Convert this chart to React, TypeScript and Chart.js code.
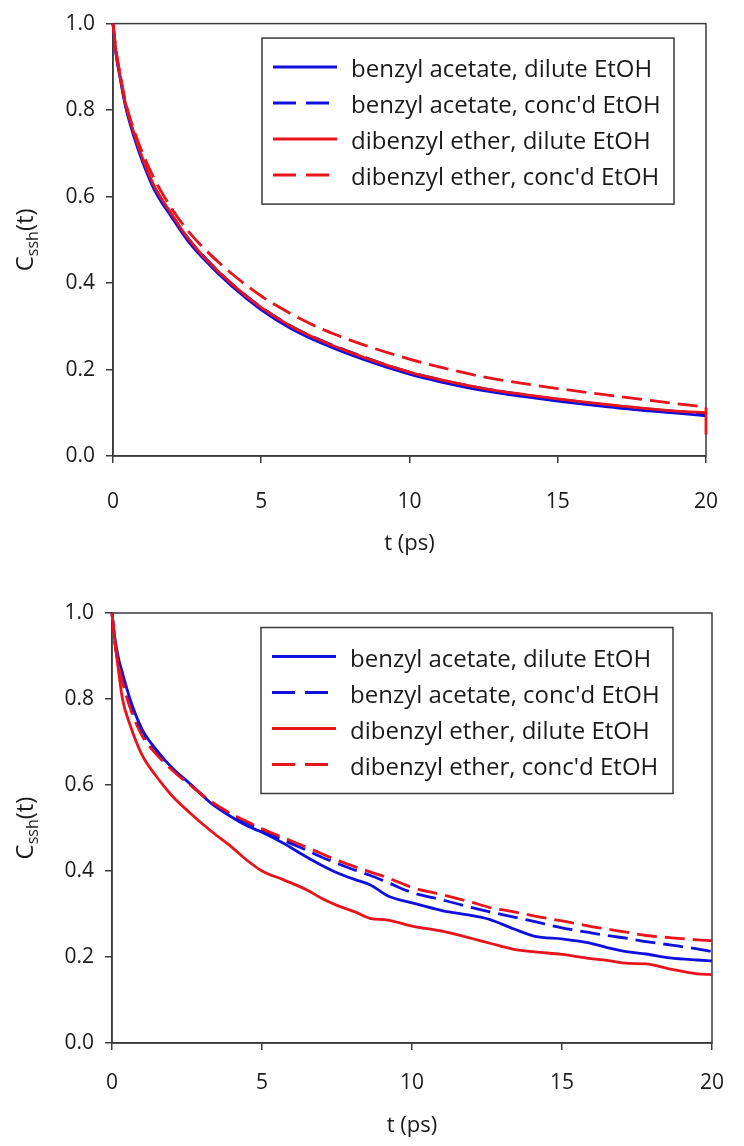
import React, { useEffect, useRef } from "react";
import { Chart, registerables } from "chart.js";

Chart.register(...registerables);

const FONT = "'Open Sans', 'DejaVu Sans', sans-serif";
const BLUE = "#1010dc";
const RED = "#e8141c";
const AXIS = "#3a3a3a";
const TEXT = "#1a1a1a";

// ---- legend / series descriptors ----
const seriesLabels = [
  "benzyl acetate, dilute EtOH",
  "benzyl acetate, conc'd EtOH",
  "dibenzyl ether, dilute EtOH",
  "dibenzyl ether, conc'd EtOH",
];
const seriesColors = [BLUE, BLUE, RED, RED];
const seriesDashed = [false, true, false, true];
const seriesOrder = [3, 2, 1, 0];

// ---- axis ticks ----
const xMin = 0;
const xMax = 20;
const xStep = 5;
const yMin = 0;
const yMax = 1;
const yStep = 0.2;

// ---- top panel data ----
const topTime = [0, 0.1, 0.25, 0.4, 0.7, 1.0, 1.4, 2.0, 2.5, 3.0, 4.0, 5.0, 6.0, 7.0, 8.5, 10, 11, 12.5, 14, 15, 16, 17.5, 19, 20];
const topBADilute = [1.0, 0.93, 0.87, 0.815, 0.74, 0.68, 0.615, 0.55, 0.5, 0.46, 0.393, 0.338, 0.295, 0.262, 0.222, 0.189, 0.172, 0.151, 0.136, 0.127, 0.119, 0.108, 0.099, 0.093];
const topBAConc = [1.0, 0.935, 0.875, 0.82, 0.746, 0.686, 0.621, 0.556, 0.506, 0.466, 0.399, 0.344, 0.301, 0.268, 0.228, 0.194, 0.177, 0.156, 0.14, 0.131, 0.123, 0.112, 0.103, 0.097];
const topDEDilute = [1.0, 0.935, 0.876, 0.822, 0.748, 0.688, 0.623, 0.557, 0.506, 0.465, 0.398, 0.343, 0.3, 0.267, 0.227, 0.194, 0.177, 0.156, 0.141, 0.132, 0.124, 0.113, 0.104, 0.1];
const topDEConc = [1.0, 0.94, 0.88, 0.825, 0.755, 0.7, 0.64, 0.57, 0.523, 0.485, 0.422, 0.37, 0.329, 0.295, 0.256, 0.224, 0.206, 0.183, 0.166, 0.156, 0.147, 0.134, 0.121, 0.113];
const topDEDiluteTailTime = [20, 20];
const topDEDiluteTail = [0.112, 0.05];

// ---- bottom panel data ----
const bottomTime = [0, 0.1, 0.2, 0.35, 0.6, 1.0, 1.5, 2.0, 2.6, 3.3, 4.0, 4.5, 5.0, 5.7, 6.5, 7.0, 7.5, 8.1, 8.6, 9.2, 10, 11, 12, 12.6, 13.4, 14.1, 15, 15.9, 16.5, 17.2, 17.8, 18.6, 19.5, 20];
const bottomBADilute = [1.0, 0.94, 0.9, 0.86, 0.8, 0.73, 0.68, 0.64, 0.603, 0.558, 0.525, 0.505, 0.49, 0.465, 0.432, 0.413, 0.396, 0.38, 0.368, 0.342, 0.326, 0.308, 0.296, 0.287, 0.265, 0.248, 0.242, 0.233, 0.222, 0.212, 0.207, 0.198, 0.193, 0.191];
const bottomBAConc = [1.0, 0.93, 0.89, 0.85, 0.79, 0.722, 0.675, 0.637, 0.602, 0.56, 0.53, 0.512, 0.495, 0.472, 0.448, 0.432, 0.418, 0.402, 0.39, 0.373, 0.35, 0.333, 0.315, 0.305, 0.293, 0.282, 0.268, 0.257, 0.25, 0.243, 0.236, 0.228, 0.219, 0.213];
const bottomDEDilute = [1.0, 0.93, 0.875, 0.8, 0.74, 0.67, 0.618, 0.575, 0.535, 0.493, 0.455, 0.425, 0.4, 0.38, 0.356, 0.336, 0.32, 0.305, 0.29, 0.286, 0.272, 0.26, 0.243, 0.232, 0.218, 0.212, 0.206, 0.197, 0.192, 0.185, 0.184, 0.172, 0.161, 0.159];
const bottomDEConc = [1.0, 0.93, 0.885, 0.84, 0.78, 0.715, 0.67, 0.635, 0.6, 0.562, 0.532, 0.515, 0.498, 0.478, 0.455, 0.44, 0.425, 0.41, 0.398, 0.384, 0.362, 0.345, 0.327, 0.315, 0.305, 0.295, 0.284, 0.272, 0.265, 0.257, 0.25, 0.245, 0.24, 0.238];

type Geo = {
  h: number;
  padTop: number;
  padRight: number;
  yAxisW: number;
  xAxisH: number;
  xTickPad: number;
  xTitleOff: number;
};

type Props = {
  time: number[];
  series: number[][];
  tailTime?: number[];
  tail?: number[];
  geo: Geo;
};

function CorrChart({ time, series, tailTime, tail, geo }: Props) {
  const ref = useRef<HTMLCanvasElement>(null);

  useEffect(() => {
    const canvas = ref.current;
    if (!canvas) return;

    const datasets: any[] = series.map((vals, i) => ({
      label: seriesLabels[i],
      data: time.map((t, j) => ({ x: t, y: vals[j] })),
      borderColor: seriesColors[i],
      backgroundColor: seriesColors[i],
      borderDash: seriesDashed[i] ? [20, 8] : [],
      borderWidth: 2.8,
      pointRadius: 0,
      cubicInterpolationMode: "monotone",
      fill: false,
      order: seriesOrder[i],
      clip: 6,
    }));
    if (tail && tailTime) {
      datasets.push({
        label: "",
        data: tailTime.map((t, j) => ({ x: t, y: tail[j] })),
        borderColor: RED,
        borderWidth: 2.8,
        pointRadius: 0,
        tension: 0,
        fill: false,
        order: 1,
        clip: 6,
      });
    }

    const framePlugin = {
      id: "frame",
      beforeDatasetsDraw(chart: any) {
        const { ctx, chartArea: a } = chart;
        ctx.save();
        ctx.strokeStyle = AXIS;
        ctx.lineWidth = 1.5;
        ctx.strokeRect(a.left, a.top, a.right - a.left, a.bottom - a.top);
        ctx.restore();
      },
    };

    const legendPlugin = {
      id: "boxLegend",
      afterDatasetsDraw(chart: any) {
        const { ctx, chartArea: a } = chart;
        const bx = a.left + 149;
        const by = a.top + 14.5;
        const bw = 412;
        const bh = 166;
        ctx.save();
        ctx.fillStyle = "#ffffff";
        ctx.fillRect(bx, by, bw, bh);
        ctx.strokeStyle = AXIS;
        ctx.lineWidth = 1.5;
        ctx.strokeRect(bx, by, bw, bh);
        for (let i = 0; i < seriesLabels.length; i++) {
          const ds = chart.data.datasets[i];
          const ry = by + 29 + i * 36;
          ctx.beginPath();
          ctx.strokeStyle = ds.borderColor;
          ctx.lineWidth = 3;
          ctx.setLineDash(seriesDashed[i] ? [23, 10] : []);
          ctx.moveTo(bx + 11, ry);
          ctx.lineTo(bx + 75, ry);
          ctx.stroke();
          ctx.setLineDash([]);
          ctx.fillStyle = TEXT;
          ctx.font = `24px ${FONT}`;
          ctx.textAlign = "left";
          ctx.textBaseline = "alphabetic";
          ctx.fillText(ds.label, bx + 89, ry + 10);
        }
        ctx.restore();
      },
    };

    const titlePlugin = {
      id: "axisTitles",
      afterDraw(chart: any) {
        const { ctx, chartArea: a } = chart;
        ctx.save();
        ctx.fillStyle = TEXT;
        // x title
        ctx.font = `22px ${FONT}`;
        ctx.textAlign = "center";
        ctx.textBaseline = "middle";
        ctx.fillText("t (ps)", (a.left + a.right) / 2, a.bottom + geo.xTitleOff);
        // y title: C_ssh(t)
        const mainFont = `24px ${FONT}`;
        const subFont = `16px ${FONT}`;
        ctx.font = mainFont;
        const wC = ctx.measureText("C").width;
        const wT = ctx.measureText("(t)").width;
        ctx.font = subFont;
        const wS = ctx.measureText("ssh").width;
        const total = wC + wS + wT;
        ctx.translate(33, (a.top + a.bottom) / 2);
        ctx.rotate(-Math.PI / 2);
        ctx.textAlign = "left";
        ctx.textBaseline = "alphabetic";
        let x0 = -total / 2;
        ctx.font = mainFont;
        ctx.fillText("C", x0, 0);
        x0 += wC;
        ctx.font = subFont;
        ctx.fillText("ssh", x0, 5);
        x0 += wS;
        ctx.font = mainFont;
        ctx.fillText("(t)", x0, 0);
        ctx.restore();
      },
    };

    const chart = new Chart(canvas, {
      type: "line",
      data: { datasets },
      options: {
        responsive: false,
        animation: false,
        events: [],
        layout: {
          padding: { top: geo.padTop, right: geo.padRight, bottom: 0, left: 0 },
        },
        plugins: {
          legend: { display: false },
          tooltip: { enabled: false },
          title: { display: false },
        },
        scales: {
          x: {
            type: "linear",
            min: xMin,
            max: xMax,
            ticks: {
              stepSize: xStep,
              maxRotation: 0,
              autoSkip: false,
              padding: geo.xTickPad,
              color: TEXT,
              font: { family: FONT, size: 21 },
            },
            grid: {
              drawOnChartArea: false,
              drawTicks: true,
              tickLength: 7,
              color: AXIS,
              lineWidth: 1.5,
            },
            border: { display: true, color: AXIS, width: 1.5 },
            afterFit: (s: any) => {
              s.height = geo.xAxisH;
            },
          },
          y: {
            type: "linear",
            min: yMin,
            max: yMax,
            ticks: {
              stepSize: yStep,
              padding: 11,
              color: TEXT,
              font: { family: FONT, size: 21 },
              callback: (v: any) => Number(v).toFixed(1),
            },
            grid: {
              drawOnChartArea: false,
              drawTicks: true,
              tickLength: 7,
              color: AXIS,
              lineWidth: 1.5,
            },
            border: { display: true, color: AXIS, width: 1.5 },
            afterFit: (s: any) => {
              s.width = geo.yAxisW;
            },
          },
        },
      },
      plugins: [framePlugin, legendPlugin, titlePlugin],
    });

    return () => chart.destroy();
  }, []);

  return <canvas ref={ref} width={744} height={geo.h} style={{ display: "block" }} />;
}

const topGeo: Geo = { h: 580, padTop: 23, padRight: 15, yAxisW: 113, xAxisH: 124, xTickPad: 26, xTitleOff: 88 };
const bottomGeo: Geo = { h: 566, padTop: 33, padRight: 18, yAxisW: 112, xAxisH: 103, xTickPad: 20, xTitleOff: 83 };

export default function App() {
  return (
    <div style={{ position: "absolute", left: 0, top: 0, width: 744, height: 1146, background: "#ffffff" }}>
      <CorrChart
        time={topTime}
        series={[topBADilute, topBAConc, topDEDilute, topDEConc]}
        tailTime={topDEDiluteTailTime}
        tail={topDEDiluteTail}
        geo={topGeo}
      />
      <CorrChart
        time={bottomTime}
        series={[bottomBADilute, bottomBAConc, bottomDEDilute, bottomDEConc]}
        geo={bottomGeo}
      />
    </div>
  );
}
